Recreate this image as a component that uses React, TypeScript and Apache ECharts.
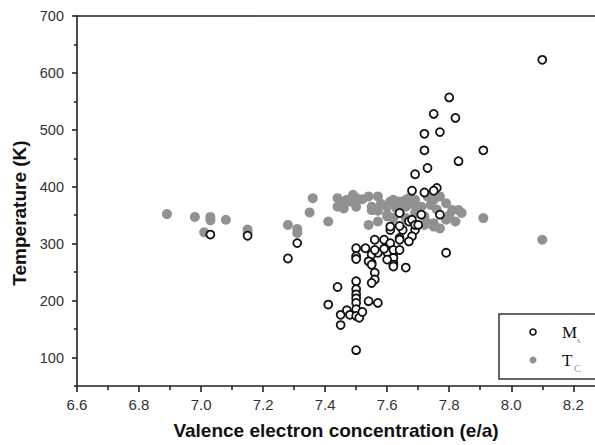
import React, { useEffect, useRef } from "react";
import * as echarts from "echarts";

const xTicks = [6.6, 6.8, 7.0, 7.2, 7.4, 7.6, 7.8, 8.0, 8.2];
const xMinorTicks = [6.7, 6.9, 7.1, 7.3, 7.5, 7.7, 7.9, 8.1];
const yTicks = [100, 200, 300, 400, 500, 600, 700];
const yMinorTicks = [50, 150, 250, 350, 450, 550, 650];

// Ms (martensitic transformation temperature) — open circles
const msX = [
  7.03, 7.15, 7.28, 7.31,
  7.41, 7.44, 7.45, 7.47, 7.48, 7.45, 7.50,
  7.50, 7.50, 7.50, 7.50, 7.50, 7.50, 7.50,
  7.51, 7.52, 7.54, 7.57,
  7.50, 7.50, 7.50, 7.53, 7.55, 7.55, 7.56, 7.56, 7.55, 7.54, 7.55, 7.57,
  7.56, 7.59, 7.61, 7.62, 7.62, 7.60, 7.61, 7.64,
  7.79, 7.66, 7.62, 7.62, 7.62, 7.60,
  7.56, 7.59, 7.62, 7.64,
  7.65, 7.64, 7.67, 7.69, 7.68, 7.67, 7.64,
  7.64, 7.71, 7.77, 7.68, 7.61, 7.69, 7.70,
  7.68, 7.72, 7.76, 7.75,
  7.69, 7.73, 7.72, 7.91, 7.83, 7.72, 7.77, 7.75, 7.82, 7.80, 8.10,
];
const msY = [
  316, 314, 274, 301,
  193, 224, 175, 183, 175, 157, 113,
  234, 220, 211, 204, 196, 185, 173,
  170, 180, 199, 196,
  292, 278, 273, 292, 281, 266, 249, 237, 231, 269, 263, 284,
  307, 307, 301, 284, 266, 285, 324, 310,
  284, 258, 275, 263, 260, 272,
  289, 291, 289, 289,
  324, 331, 339, 324, 313, 304, 307,
  354, 351, 351, 342, 330, 333, 333,
  393, 390, 398, 393,
  422, 433, 464, 464, 445, 493, 496, 528, 521, 557, 623,
];

// Tc (Curie temperature) — grey filled dots
const tcX = [
  6.89, 6.98, 7.03, 7.03, 7.01, 7.08, 7.15, 7.15, 7.28, 7.31, 7.31, 7.35, 7.36,
  7.41, 7.44, 7.46, 7.48, 7.49, 7.50, 7.54, 7.57, 7.55, 7.54, 7.57, 7.60, 7.61,
  7.62, 7.64, 7.64, 7.60, 7.62,
  7.67, 7.69, 7.71, 7.73, 7.75, 7.77, 7.79, 7.81, 7.83, 7.84, 7.69, 7.72, 7.73,
  7.75, 7.77, 7.79, 7.82, 7.91, 8.10,
  7.66, 7.68, 7.70, 7.74, 7.76, 7.63, 7.58, 7.52, 7.66, 7.80,
  7.44, 7.46, 7.47, 7.50, 7.55, 7.57, 7.62, 7.66, 7.60, 7.64, 7.72, 7.75,
];
const tcY = [
  352, 347, 347, 341, 320, 342, 325, 319, 333, 326, 319, 355, 380,
  339, 380, 374, 374, 386, 365, 383, 383, 365, 333, 339, 365, 374,
  371, 374, 354, 351, 345,
  380, 377, 365, 383, 377, 383, 371, 359, 359, 354, 354, 348, 336,
  330, 327, 342, 339, 345, 307,
  365, 370, 360, 368, 360, 362, 370, 378, 345, 350,
  365, 362, 377, 380, 359, 358, 377, 377, 348, 359, 333, 336,
];

const msData = msX.map((x, i) => [x, msY[i]]);
const tcData = tcX.map((x, i) => [x, tcY[i]]);

const SANS = "'Liberation Sans', Arial, sans-serif";
const SERIF = "'Liberation Serif', 'Times New Roman', serif";

export default function App() {
  const ref = useRef<HTMLDivElement>(null);
  useEffect(() => {
    if (!ref.current) return;
    const chart = echarts.init(ref.current, null, { renderer: "svg" });
    const X_MIN = 6.6, X_MAX = 8.27, Y_MIN = 50, Y_MAX = 700;
    const lineStyle = { color: "#222", width: 1.6 };
    chart.setOption({
      animation: false,
      backgroundColor: "#fff",
      grid: { left: 77, right: 0, top: 16, bottom: 58, containLabel: false },
      xAxis: [
        {
          type: "value", position: "bottom", min: X_MIN, max: X_MAX,
          axisLine: { show: true, lineStyle },
          axisTick: { show: true, inside: false, length: 6, customValues: xTicks, lineStyle },
          axisLabel: {
            customValues: xTicks, margin: 11, color: "#333", fontSize: 15, fontFamily: SANS,
            formatter: (v: number) => v.toFixed(1),
          },
          splitLine: { show: false },
          name: "Valence electron concentration (e/a)",
          nameLocation: "middle", nameGap: 35,
          nameTextStyle: { fontSize: 19, fontWeight: "bold", color: "#111", fontFamily: SANS },
        },
        {
          type: "value", position: "bottom", min: X_MIN, max: X_MAX,
          axisLine: { show: false },
          axisTick: { show: true, inside: false, length: 4, customValues: xMinorTicks, lineStyle },
          axisLabel: { show: false },
          splitLine: { show: false },
        },
        {
          type: "value", position: "top", min: X_MIN, max: X_MAX,
          axisLine: { show: true, lineStyle },
          axisTick: { show: false },
          axisLabel: { show: false },
          splitLine: { show: false },
        },
      ],
      yAxis: [
        {
          type: "value", position: "left", min: Y_MIN, max: Y_MAX,
          axisLine: { show: true, lineStyle },
          axisTick: { show: true, inside: false, length: 5, customValues: yTicks, lineStyle },
          axisLabel: { customValues: yTicks, margin: 13, color: "#333", fontSize: 14.5, fontFamily: SANS },
          splitLine: { show: false },
          name: "Temperature (K)",
          nameLocation: "middle", nameGap: 45,
          nameTextStyle: {
            fontSize: 19, fontWeight: "bold", color: "#111", fontFamily: SANS,
            padding: [0, 24, 0, 0],
          },
        },
        {
          type: "value", position: "left", min: Y_MIN, max: Y_MAX,
          axisLine: { show: false },
          axisTick: { show: true, inside: false, length: 3, customValues: yMinorTicks, lineStyle },
          axisLabel: { show: false },
          splitLine: { show: false },
        },
      ],
      series: [
        {
          name: "Tc", type: "scatter", data: tcData, symbol: "circle", symbolSize: 10,
          itemStyle: { color: "#919191", opacity: 1 },
          xAxisIndex: 0, yAxisIndex: 0,
        },
        {
          name: "Ms", type: "scatter", data: msData, symbol: "circle", symbolSize: 8,
          itemStyle: { color: "#fff", borderColor: "#111", borderWidth: 1.8, opacity: 1 },
          xAxisIndex: 0, yAxisIndex: 0,
        },
      ],
      graphic: [
        {
          type: "rect", z: 100,
          shape: { x: 499, y: 314, width: 110, height: 65 },
          style: { fill: "#fff", stroke: "#333", lineWidth: 1.5 },
        },
        {
          type: "circle", z: 101,
          shape: { cx: 533, cy: 332, r: 3 },
          style: { fill: "#fff", stroke: "#111", lineWidth: 1.6 },
        },
        {
          type: "circle", z: 101,
          shape: { cx: 533, cy: 360, r: 3.5 },
          style: { fill: "#919191" },
        },
        {
          type: "text", z: 101, x: 562, y: 332,
          style: { text: "M", fill: "#111", fontSize: 17, fontFamily: SERIF, verticalAlign: "middle" },
        },
        {
          type: "text", z: 101, x: 577, y: 340,
          style: { text: "s", fill: "#888", fontSize: 9, fontFamily: SERIF, verticalAlign: "middle" },
        },
        {
          type: "text", z: 101, x: 562, y: 360,
          style: { text: "T", fill: "#111", fontSize: 17, fontFamily: SERIF, verticalAlign: "middle" },
        },
        {
          type: "text", z: 101, x: 574, y: 368,
          style: { text: "C", fill: "#999", fontSize: 10, fontFamily: SERIF, verticalAlign: "middle" },
        },
      ],
    });
    return () => chart.dispose();
  }, []);
  return (
    <div
      ref={ref}
      style={{ position: "fixed", left: 0, top: 0, width: 595, height: 445, background: "#fff" }}
    />
  );
}
